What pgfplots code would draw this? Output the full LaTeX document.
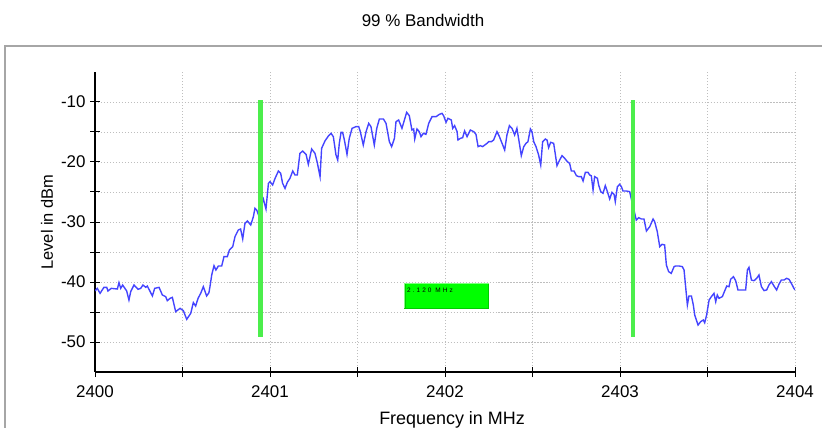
\documentclass[border=0pt]{standalone}
\usepackage{fontspec}
\setmainfont{Liberation Sans}
\usepackage{pgfplots}
\pgfplotsset{compat=1.18}
\pgfplotstableread{
x y
2400.000 -41.5
2400.013 -41.06
2400.029 -41.89
2400.051 -40.89
2400.067 -40.89
2400.074 -41.5
2400.093 -41.06
2400.128 -41.17
2400.137 -40.11
2400.147 -41.06
2400.158 -40.5
2400.181 -41.5
2400.194 -43.0
2400.204 -41.61
2400.223 -40.5
2400.246 -41.22
2400.261 -41.06
2400.274 -40.5
2400.290 -40.89
2400.299 -40.67
2400.328 -42.33
2400.341 -41.06
2400.366 -40.89
2400.385 -42.17
2400.404 -42.44
2400.413 -43.11
2400.429 -42.72
2400.442 -42.56
2400.461 -44.94
2400.486 -44.39
2400.505 -44.78
2400.524 -46.22
2400.547 -45.22
2400.562 -43.44
2400.575 -44.0
2400.589 -42.72
2400.604 -41.89
2400.619 -40.78
2400.638 -42.33
2400.651 -41.78
2400.657 -40.78
2400.667 -38.83
2400.680 -37.28
2400.691 -38.0
2400.705 -37.33
2400.724 -37.33
2400.737 -35.78
2400.756 -35.78
2400.768 -34.67
2400.787 -34.11
2400.800 -32.44
2400.819 -31.33
2400.832 -31.17
2400.844 -32.83
2400.857 -30.22
2400.871 -29.83
2400.890 -30.5
2400.905 -29.11
2400.914 -27.72
2400.924 -28.0
2400.933 -28.72
2400.962 -26.17
2400.977 -27.83
2400.991 -23.56
2401.000 -23.28
2401.015 -23.83
2401.029 -22.72
2401.048 -21.5
2401.061 -21.89
2401.072 -23.56
2401.086 -24.39
2401.099 -23.39
2401.114 -22.72
2401.130 -21.5
2401.143 -22.17
2401.156 -22.17
2401.171 -18.56
2401.187 -18.17
2401.206 -18.72
2401.219 -20.39
2401.238 -17.83
2401.257 -18.56
2401.271 -20.22
2401.286 -22.44
2401.295 -17.72
2401.314 -16.5
2401.335 -15.61
2401.349 -15.22
2401.362 -15.78
2401.377 -18.83
2401.387 -19.67
2401.396 -16.89
2401.406 -15.06
2401.415 -15.06
2401.425 -16.33
2401.440 -18.72
2401.453 -16.06
2401.469 -14.39
2401.491 -14.11
2401.507 -14.11
2401.516 -14.94
2401.533 -17.17
2401.549 -14.94
2401.564 -13.56
2401.577 -14.11
2401.596 -17.17
2401.610 -14.39
2401.625 -12.83
2401.648 -12.83
2401.663 -13.56
2401.682 -16.61
2401.695 -17.44
2401.711 -16.06
2401.720 -13.28
2401.735 -13.0
2401.754 -14.39
2401.768 -13.0
2401.781 -11.72
2401.796 -12.28
2401.811 -14.67
2401.821 -14.5
2401.827 -16.17
2401.840 -14.5
2401.853 -14.94
2401.863 -15.78
2401.876 -15.22
2401.891 -15.39
2401.907 -13.56
2401.926 -12.44
2401.949 -12.44
2401.968 -12.06
2401.983 -11.89
2401.992 -12.28
2402.006 -13.39
2402.017 -12.72
2402.036 -13.0
2402.044 -14.39
2402.055 -13.94
2402.069 -14.94
2402.074 -16.33
2402.088 -16.06
2402.101 -15.94
2402.112 -14.83
2402.126 -15.78
2402.145 -14.67
2402.164 -14.94
2402.177 -15.39
2402.189 -17.44
2402.202 -17.28
2402.215 -17.44
2402.227 -17.17
2402.240 -16.89
2402.250 -16.61
2402.265 -16.61
2402.278 -16.33
2402.297 -14.94
2402.311 -15.78
2402.326 -16.89
2402.341 -18.0
2402.354 -15.5
2402.368 -13.94
2402.383 -14.39
2402.398 -15.5
2402.411 -14.39
2402.425 -16.89
2402.436 -18.94
2402.450 -17.44
2402.463 -16.89
2402.474 -16.61
2402.488 -14.5
2402.497 -14.94
2402.507 -16.61
2402.520 -17.44
2402.535 -18.83
2402.547 -20.5
2402.558 -16.61
2402.573 -16.17
2402.583 -16.33
2402.592 -17.61
2402.604 -16.72
2402.621 -16.89
2402.631 -18.83
2402.640 -20.61
2402.655 -19.67
2402.669 -18.94
2402.684 -19.39
2402.699 -19.94
2402.712 -20.22
2402.722 -21.5
2402.737 -21.5
2402.751 -22.28
2402.764 -22.44
2402.779 -22.44
2402.789 -23.17
2402.802 -21.72
2402.817 -21.72
2402.827 -22.17
2402.836 -22.28
2402.846 -24.67
2402.855 -22.44
2402.871 -22.72
2402.878 -23.83
2402.890 -24.94
2402.903 -25.22
2402.916 -23.94
2402.928 -24.94
2402.941 -26.17
2402.954 -25.06
2402.966 -25.39
2402.973 -26.61
2402.985 -24.11
2402.998 -23.72
2403.008 -24.11
2403.017 -24.83
2403.036 -24.83
2403.055 -24.94
2403.093 -29.67
2403.107 -29.28
2403.122 -29.5
2403.137 -29.5
2403.151 -31.5
2403.170 -30.78
2403.189 -29.5
2403.198 -29.94
2403.213 -31.61
2403.227 -34.11
2403.240 -33.72
2403.255 -33.83
2403.265 -37.17
2403.278 -38.28
2403.293 -38.56
2403.309 -37.44
2403.318 -37.33
2403.337 -37.33
2403.356 -37.44
2403.366 -38.0
2403.375 -40.78
2403.385 -43.83
2403.394 -42.33
2403.408 -42.33
2403.419 -43.83
2403.427 -45.5
2403.446 -47.17
2403.461 -46.61
2403.476 -46.33
2403.484 -46.78
2403.495 -45.5
2403.509 -43.0
2403.522 -42.44
2403.537 -41.89
2403.547 -43.28
2403.556 -42.17
2403.566 -42.72
2403.585 -42.44
2403.594 -41.78
2403.610 -40.67
2403.623 -40.78
2403.632 -39.56
2403.648 -39.11
2403.661 -39.78
2403.674 -41.33
2403.718 -41.33
2403.728 -38.0
2403.737 -37.56
2403.751 -39.67
2403.766 -39.78
2403.781 -39.39
2403.794 -38.83
2403.808 -40.78
2403.823 -41.44
2403.838 -41.33
2403.851 -40.5
2403.865 -39.94
2403.880 -40.67
2403.895 -41.33
2403.909 -40.33
2403.922 -39.67
2403.937 -39.67
2403.952 -39.39
2403.966 -39.56
2403.979 -40.22
2403.994 -41.06
2404.000 -41.33
}\level

\definecolor{trace}{RGB}{68,68,255}
\definecolor{marker}{RGB}{76,238,76}
\definecolor{gridc}{RGB}{190,190,190}

\begin{document}
\begin{tikzpicture}
\begin{axis}[
  scale only axis, width=700bp, height=300bp,
  xmin=2400, xmax=2404, ymin=-55, ymax=-5,
  axis x line=bottom, axis y line=left,
  axis line style={-, line width=1.1pt},
  xtick={2400,2401,2402,2403,2404},
  xticklabels={2400,2401,2402,2403,2404},
  minor xtick={2400.5,2401.5,2402.5,2403.5},
  ytick={-50,-40,-30,-20,-10},
  yticklabels={-50,-40,-30,-20,-10},
  minor ytick={-45,-35,-25,-15},
  tick align=center,
  major tick length=10bp, minor tick length=10bp,
  every tick/.style={black, line width=1pt},
  grid=both,
  major grid style={gridc, line width=0.8pt, dash pattern=on 1.2pt off 1.8pt},
  minor grid style={gridc, line width=0.8pt, dash pattern=on 1.2pt off 1.8pt},
  ticklabel style={font=\fontsize{17}{17}\selectfont},
  xticklabel style={yshift=-5bp},
  yticklabel style={xshift=-1bp},
]
\addplot[trace, line width=1.4pt, no marks] table {\level};
\addplot[marker, line width=4.5bp, no marks] coordinates {(2400.947,-9.67) (2400.947,-49.17)};
\addplot[marker, line width=4.5bp, no marks] coordinates {(2403.074,-9.67) (2403.074,-49.17)};
\fill[green!80!black] (axis cs:2401.767,-40.22) rectangle (axis cs:2402.251,-44.5);
\fill[green] (axis cs:2401.775,-40.35) rectangle (axis cs:2402.243,-44.35);
\draw[green!50!white, line width=0.8pt] (axis cs:2401.769,-44.4) -- (axis cs:2401.769,-40.3) -- (axis cs:2402.249,-40.3);
\node[anchor=west, inner sep=0pt, font=\fontsize{6.5}{7}\selectfont\addfontfeature{LetterSpace=32}] at (axis cs:2401.782,-41.3) {2.120 MHz};
\end{axis}
\coordinate (O) at (current axis.south west);
\draw[black!35, line width=1.2pt] ([shift={(-90bp,-60bp)}]O) -- ([shift={(-90bp,326bp)}]O) -- ([shift={(730bp,326bp)}]O);
\node[font=\fontsize{17}{17}\selectfont] at ([shift={(328bp,352bp)}]O) {99 \% Bandwidth};
\node[rotate=90, font=\fontsize{16.5}{17}\selectfont] at ([shift={(-48bp,150bp)}]O) {Level in dBm};
\node[anchor=base, font=\fontsize{18}{18}\selectfont] at ([shift={(357bp,-52bp)}]O) {Frequency in MHz};
\pgfresetboundingbox
\path[use as bounding box] ([shift={(-95bp,-56bp)}]O) rectangle ([shift={(727bp,372bp)}]O);
\end{tikzpicture}
\end{document}
